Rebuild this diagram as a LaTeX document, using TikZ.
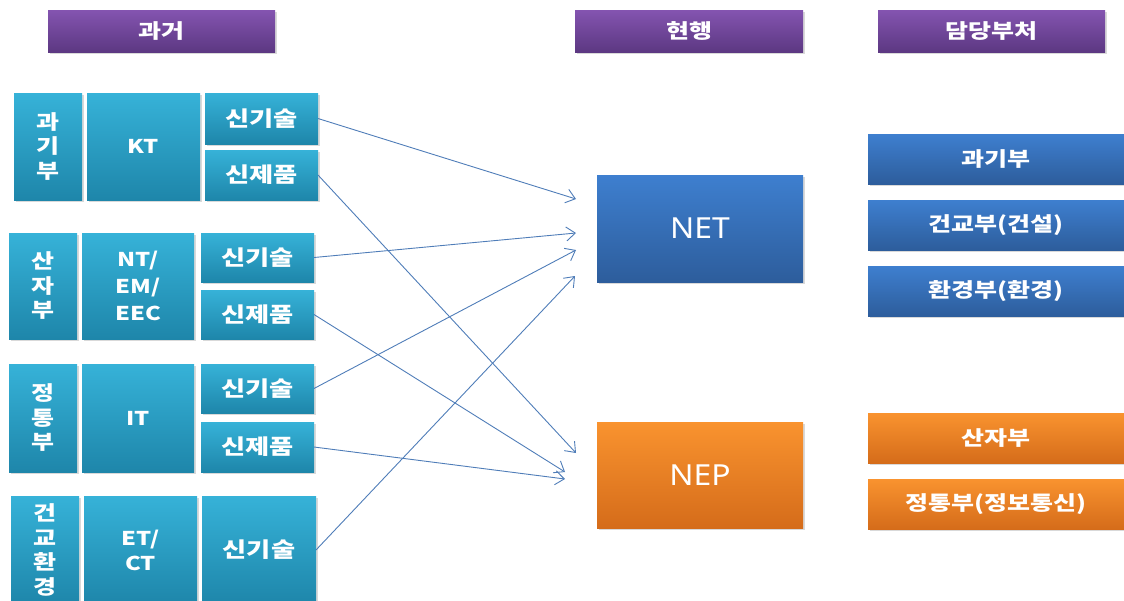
\documentclass[tikz,border=0pt]{standalone}
\usepackage{fontspec}
\setmainfont{Noto Sans CJK KR}[FakeStretch=1.25]
\newfontfamily\bigfont{Noto Sans}[FakeStretch=1.1]
\usetikzlibrary{arrows.meta,shadows}
\definecolor{purpT}{HTML}{8454B0}
\definecolor{purpB}{HTML}{5C3882}
\definecolor{cyT}{HTML}{36B2D8}
\definecolor{cyB}{HTML}{1E86AA}
\definecolor{blT}{HTML}{3E7FCF}
\definecolor{blB}{HTML}{2D5D9C}
\definecolor{orT}{HTML}{F9932F}
\definecolor{orB}{HTML}{D56C1A}
\definecolor{arrc}{HTML}{4F7DB8}
\begin{document}
\begin{tikzpicture}[x=1pt,y=-1pt,
  base/.style={anchor=north west, inner sep=0pt, outer sep=0pt, text=white, align=center,
    drop shadow={opacity=0.3, shadow xshift=1.5pt, shadow yshift=-2pt}},
  hdr/.style={base, top color=purpT, bottom color=purpB, minimum width=227pt, minimum height=42pt,
    font=\fontsize{20}{24}\selectfont\bfseries},
  cybox/.style={base, top color=cyT, bottom color=cyB, font=\fontsize{21}{25}\selectfont\bfseries},
  vlab/.style={cybox, minimum width=68pt, font=\fontsize{20}{24.5}\selectfont\bfseries},
  latin/.style={cybox, font=\fontsize{19}{27}\selectfont\bfseries},
  blbox/.style={base, top color=blT, bottom color=blB, minimum width=256pt, minimum height=50pt,
    font=\fontsize{20}{24}\selectfont\bfseries},
  orbox/.style={base, top color=orT, bottom color=orB, minimum width=256pt, minimum height=50pt,
    font=\fontsize{20}{24}\selectfont\bfseries},
  bigbl/.style={base, top color=blT, bottom color=blB, minimum width=206pt, font=\bigfont\fontsize{29}{32}\selectfont},
  bigor/.style={base, top color=orT, bottom color=orB, minimum width=206pt, font=\bigfont\fontsize{29}{32}\selectfont},
  arr/.style={draw=arrc, line width=0.9pt, -{Straight Barb[length=9pt,width=14pt]}}
]
\useasboundingbox (0,0) rectangle (1124,600);
\clip (0,0) rectangle (1124,600);

% headers
\node[hdr] (h1) at (48,10) {과거};
\node[hdr, minimum width=228pt] (h2) at (575,10) {현행};
\node[hdr] (h3) at (878,10) {담당부처};

% row 1
\node[vlab, minimum height=107pt] (r1a) at (14,93) {과\\기\\부};
\node[latin, minimum width=113pt, minimum height=107pt] (r1b) at (87,93) {KT};
\node[cybox, minimum width=113pt, minimum height=51pt] (r1c) at (205,93) {신기술};
\node[cybox, minimum width=113pt, minimum height=50pt] (r1d) at (205,150) {신제품};

% row 2
\node[vlab, minimum height=106pt] (r2a) at (9,233) {산\\자\\부};
\node[latin, minimum width=112pt, minimum height=106pt] (r2b) at (82,233) {NT/\\EM/\\EEC};
\node[cybox, minimum width=113pt, minimum height=49pt] (r2c) at (201,233) {신기술};
\node[cybox, minimum width=113pt, minimum height=49pt] (r2d) at (201,290) {신제품};

% row 3
\node[vlab, minimum height=108pt] (r3a) at (9,364) {정\\통\\부};
\node[latin, minimum width=112pt, minimum height=108pt] (r3b) at (82,364) {IT};
\node[cybox, minimum width=113pt, minimum height=49pt] (r3c) at (201,364) {신기술};
\node[cybox, minimum width=113pt, minimum height=50pt] (r3d) at (201,422) {신제품};

% row 4
\node[vlab, minimum height=108pt] (r4a) at (11,496) {건\\교\\환\\경};
\node[latin, minimum width=113pt, minimum height=108pt, font=\fontsize{19}{25}\selectfont\bfseries] (r4b) at (84,496) {ET/\\CT};
\node[cybox, minimum width=114pt, minimum height=108pt] (r4c) at (202,496) {신기술};

% middle
\node[bigbl, minimum height=107pt] (net) at (597,175) {NET};
\node[bigor, minimum height=106pt] (nep) at (597,422) {NEP};

% right
\node[blbox] (g1) at (868,134) {과기부};
\node[blbox] (g2) at (868,200) {건교부(건설)};
\node[blbox] (g3) at (868,266) {환경부(환경)};
\node[orbox] (o1) at (868,413) {산자부};
\node[orbox] (o2) at (868,479) {정통부(정보통신)};

% arrow tips
\coordinate (t1) at (576,199);
\coordinate (t2) at (576,233);
\coordinate (t3) at (576,250);
\coordinate (t4) at (575,276);
\coordinate (p1) at (576,453);
\coordinate (p2) at (565,472);
\coordinate (p3) at (565,479);

\draw[arr] (r1c.east) -- (t1);
\draw[arr] (r2c.east) -- (t2);
\draw[arr] (r3c.east) -- (t3);
\draw[arr] (r4c.east) -- (t4);
\draw[arr] (r1d.east) -- (p1);
\draw[arr] (r2d.east) -- (p2);
\draw[arr] (r3d.east) -- (p3);
\end{tikzpicture}
\end{document}
